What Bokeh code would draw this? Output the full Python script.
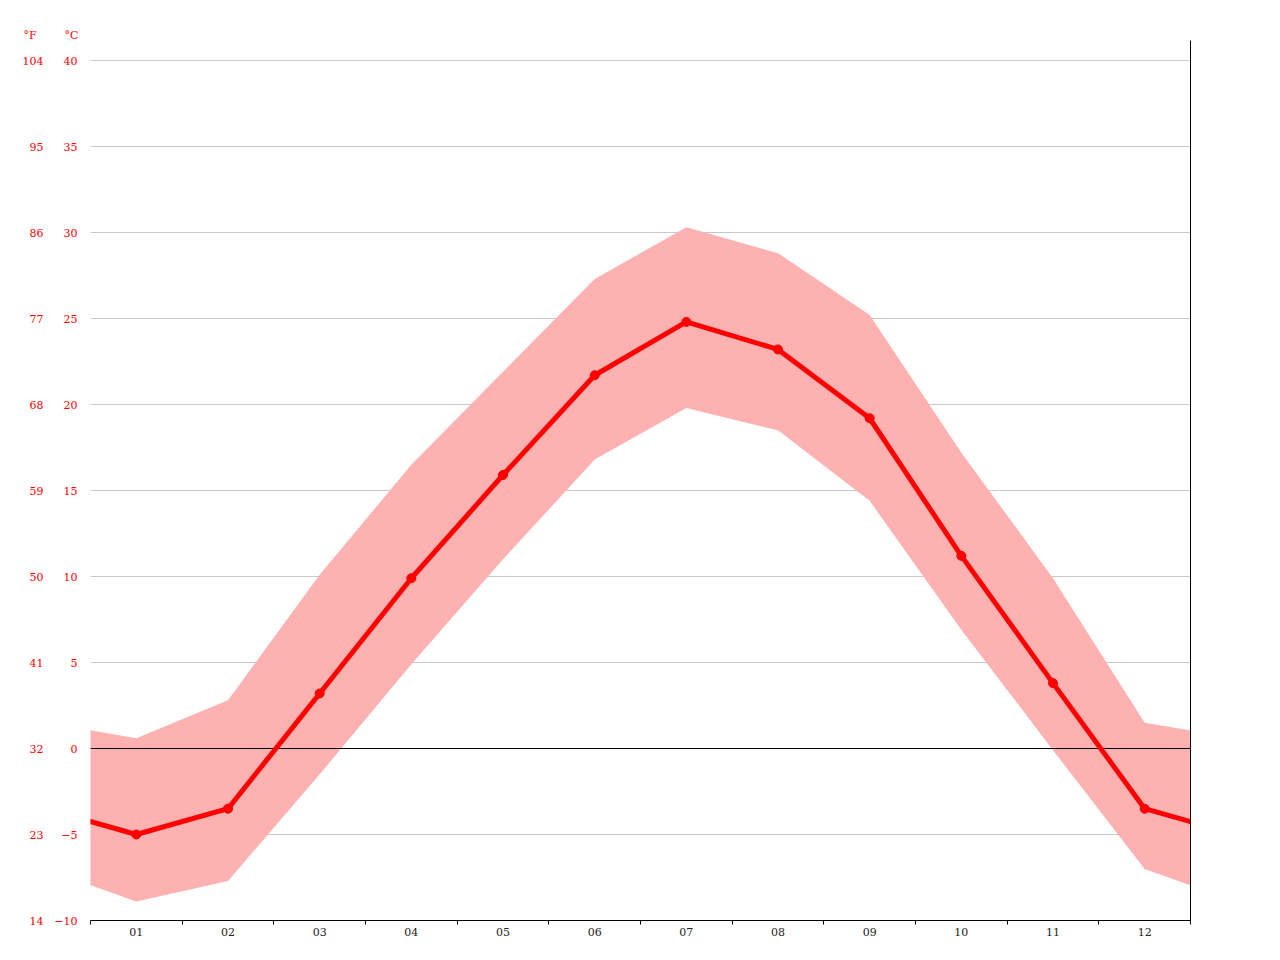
from bokeh.plotting import figure
from bokeh.models import (Range1d, LinearAxis, FixedTicker, ColumnDataSource)
from bokeh.embed import file_html
from bokeh.resources import INLINE

# ---- data ----
months = list(range(1, 13))
month_labels = ["01", "02", "03", "04", "05", "06", "07", "08", "09", "10", "11", "12"]
temp_mean = [-5.0, -3.5, 3.2, 9.9, 15.9, 21.7, 24.8, 23.2, 19.2, 11.2, 3.8, -3.5]
temp_max = [0.6, 2.8, 10.1, 16.5, 21.9, 27.3, 30.3, 28.8, 25.2, 17.2, 9.9, 1.5]
temp_min = [-8.9, -7.7, -1.5, 4.9, 11.0, 16.8, 19.8, 18.5, 14.4, 6.9, -0.1, -7.0]
c_ticks = [-10, -5, 0, 5, 10, 15, 20, 25, 30, 35, 40]
f_ticks = [14, 23, 32, 41, 50, 59, 68, 77, 86, 95, 104]
unit_f = "°F"
unit_c = "°C"

# wrap-around: previous December and next January, clipped by the x range
wx = [0] + months + [13]
wmean = [temp_mean[-1]] + temp_mean + [temp_mean[0]]
wmax = [temp_max[-1]] + temp_max + [temp_max[0]]
wmin = [temp_min[-1]] + temp_min + [temp_min[0]]

FONT = "DejaVu Serif"
y_top = 40 + 20 / 17.2

p = figure(width=1272, height=952, output_backend="svg", toolbar_location=None,
           x_range=Range1d(0.5, 12.5), y_range=Range1d(-10, y_top),
           min_border_left=90, min_border_right=82, min_border_top=40, min_border_bottom=32)
p.outline_line_color = None
p.background_fill_color = "white"
p.border_fill_color = "white"

# unit headers as the title (NBSP keeps the gap between the two units)
p.title.text = unit_f + "\u00a0" * 8 + unit_c
p.title.align = "left"
p.title.offset = -67
p.title.standoff = -2
p.title.text_font = FONT
p.title.text_font_size = "11px"
p.title.text_font_style = "normal"
p.title.text_color = "#ff0000"

# extra range for Fahrenheit
p.extra_y_ranges = {"F": Range1d(-10 * 1.8 + 32, y_top * 1.8 + 32)}

# grid
p.xgrid.visible = False
p.ygrid.ticker = FixedTicker(ticks=c_ticks)
p.ygrid.grid_line_color = "#c8c8c8"
p.ygrid.grid_line_width = 1

# band, zero line, mean line
src = ColumnDataSource(dict(x=wx, mean=wmean, hi=wmax, lo=wmin))
p.varea(x="x", y1="lo", y2="hi", source=src, fill_color="#fdb1b1", fill_alpha=1.0)
p.hspan(y=[0], line_color="black", line_width=1)
p.line(x="x", y="mean", source=src, line_color="#ff0000", line_width=5)
p.scatter(x=months, y=temp_mean, size=9, color="#ff0000", marker="circle")

# °C axis
ya = p.yaxis[0]
ya.ticker = FixedTicker(ticks=c_ticks)
ya.axis_line_color = None
ya.major_tick_line_color = None
ya.minor_tick_line_color = None
ya.major_tick_out = 0
ya.major_tick_in = 0
ya.major_label_standoff = 13
ya.major_label_text_color = "#ff0000"
ya.major_label_text_font = FONT
ya.major_label_text_font_size = "11px"

# °F axis (outer)
fa = LinearAxis(y_range_name="F", ticker=FixedTicker(ticks=f_ticks))
fa.axis_line_color = None
fa.major_tick_line_color = None
fa.minor_tick_line_color = None
fa.major_tick_out = 0
fa.major_tick_in = 0
fa.major_label_standoff = 8
fa.major_label_text_color = "#ff0000"
fa.major_label_text_font = FONT
fa.major_label_text_font_size = "11px"
p.add_layout(fa, "left")

# bottom axis
xa = p.xaxis[0]
xa.ticker = FixedTicker(ticks=months, minor_ticks=[m - 0.5 for m in months] + [12.5])
xa.major_label_overrides = {m: lab for m, lab in zip(months, month_labels)}
xa.axis_line_color = "black"
xa.axis_line_width = 1
xa.major_tick_line_color = None
xa.major_tick_out = 0
xa.major_tick_in = 0
xa.minor_tick_line_color = "black"
xa.minor_tick_out = 4
xa.minor_tick_in = 0
xa.major_label_standoff = 3
xa.major_label_text_color = "#222222"
xa.major_label_text_font = FONT
xa.major_label_text_font_size = "11px"

# right axis line
ra = LinearAxis(ticker=FixedTicker(ticks=[]))
ra.axis_line_color = "black"
ra.major_tick_line_color = None
ra.minor_tick_line_color = None
ra.major_label_text_font_size = "0px"
ra.major_tick_out = 0
p.add_layout(ra, "right")

open("out.html", "w").write(file_html(p, INLINE))
